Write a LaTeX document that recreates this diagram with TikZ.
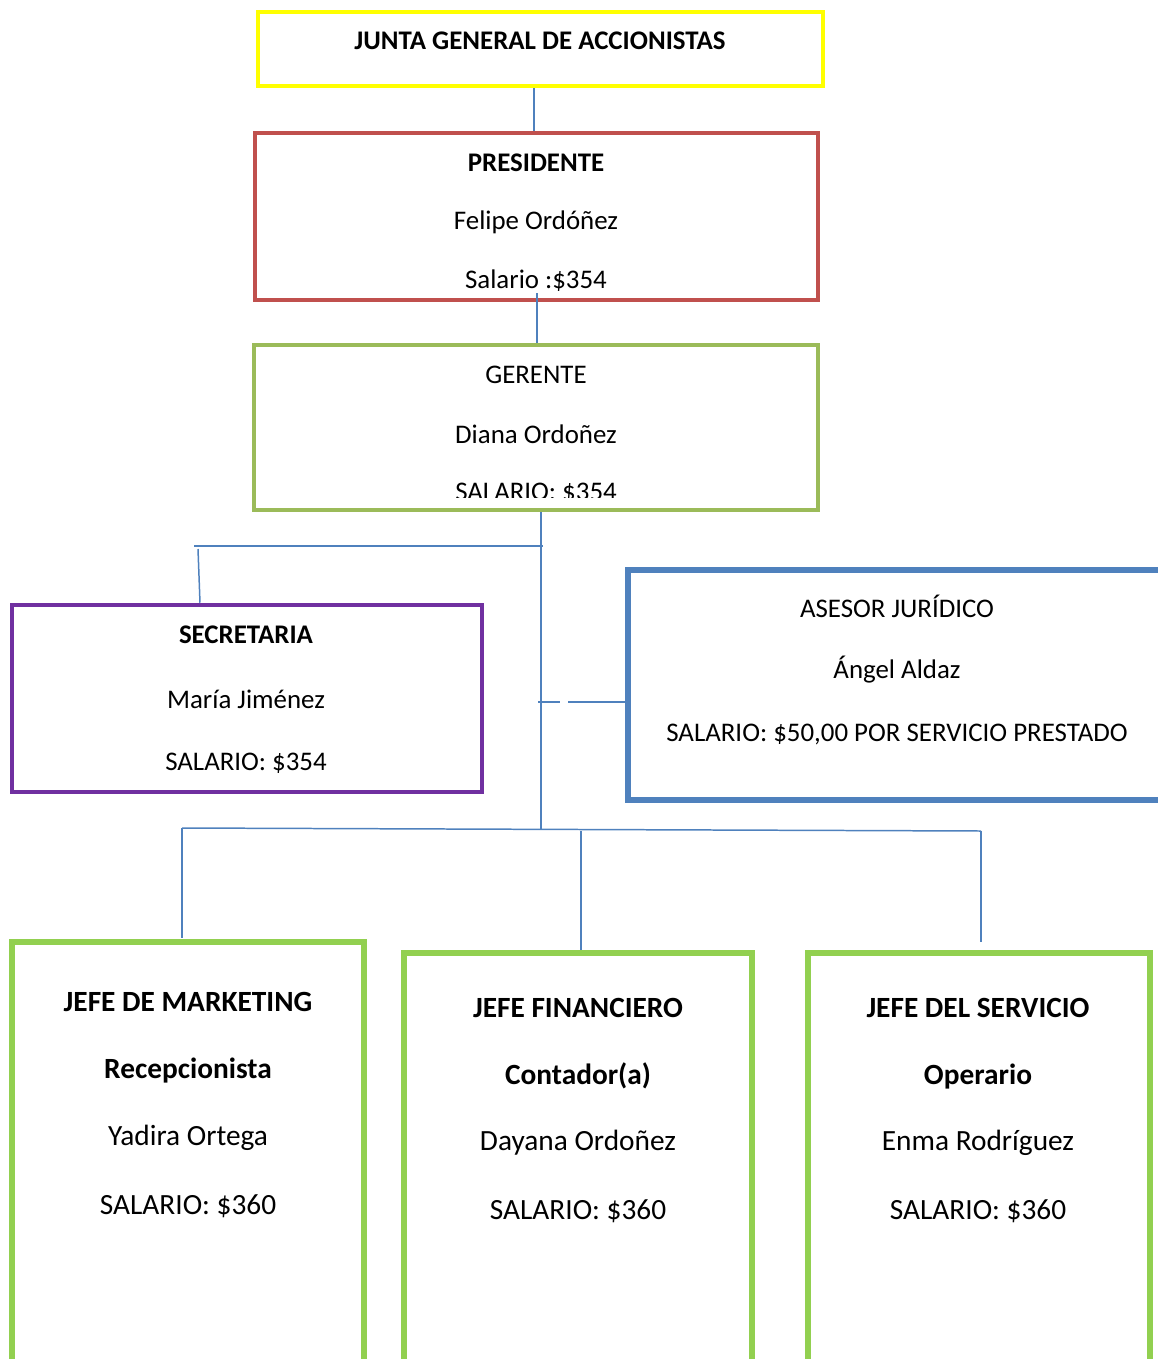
\documentclass[tikz,border=0pt]{standalone}
\usepackage{fontspec}
\setmainfont{Carlito}
\usepackage{tikz}
\usetikzlibrary{positioning}
\definecolor{amarillo}{HTML}{FFFF00}
\definecolor{rojo}{HTML}{C0504D}
\definecolor{verde}{HTML}{9BBB59}
\definecolor{morado}{HTML}{7030A0}
\definecolor{azul}{HTML}{4F81BD}
\definecolor{lima}{HTML}{92D050}
\tikzset{caja/.style={draw,line width=2.6pt,rectangle,inner sep=0pt},
  linea/.style={azul,line width=0.85pt},
  txt/.style={inner sep=0pt,font=\fontsize{15.3}{18}\selectfont},
  txtb/.style={txt,font=\fontsize{15.3}{18}\selectfont\bfseries},
  grande/.style={inner sep=0pt,font=\fontsize{16.7}{20}\selectfont},
  grandeb/.style={inner sep=0pt,font=\fontsize{16.7}{20}\selectfont\bfseries}}

\begin{document}
\begin{tikzpicture}[x=0.02cm,y=-0.02cm]
\useasboundingbox (0,0) rectangle (1158,1359);
\clip (0,0) rectangle (1158,1359);
% cajas
\node[caja,amarillo,minimum width=11.30cm,minimum height=1.48cm] (junta) at (540.5,49) {};
\node[caja,rojo,minimum width=11.26cm,minimum height=3.34cm] (pres) at (536.5,216.5) {};
\node[caja,verde,minimum width=11.28cm,minimum height=3.30cm] (ger) at (536,427.5) {};
\node[caja,morado,minimum width=9.40cm,minimum height=3.74cm] (sec) at (247,698.5) {};
\node[caja,azul,line width=3pt,minimum width=10.84cm,minimum height=4.60cm] (ases) at (899,685) {};
\node[caja,lima,line width=3pt,minimum width=7.04cm,minimum height=9.56cm] (mkt) at (188,1181) {};
\node[caja,lima,line width=3pt,minimum width=6.96cm,minimum height=9.34cm] (fin) at (578,1186.5) {};
\node[caja,lima,line width=3pt,minimum width=6.84cm,minimum height=9.34cm] (serv) at (979,1186.5) {};
% textos
\node[txtb] (t1) at (540,41) {JUNTA GENERAL DE ACCIONISTAS};
\node[txtb] (p1) at (536,163) {PRESIDENTE};
\node[txt] (p2) at (536,222) {Felipe Ordóñez};
\node[txt] (p3) at (536,281) {Salario :\$354};
\node[txt] (g1) at (536,375) {GERENTE};
\node[txt] (g2) at (536,434) {Diana Ordoñez};
\begin{scope}
\clip (254,345) rectangle (818,497);
\node[txt] (g3) at (536,493) {SALARIO: \$354};
\end{scope}
\node[txtb] (s1) at (246,635) {SECRETARIA};
\node[txt] (s2) at (246,699) {María Jiménez};
\node[txt] (s3) at (246,763) {SALARIO: \$354};
\node[txt] (a1) at (897,606) {ASESOR JURÍDICO};
\node[txt] (a2) at (897,670) {Ángel Aldaz};
\node[txt] (a3) at (897,734) {SALARIO: \$50,00 POR SERVICIO PRESTADO};
\node[grandeb] (m1) at (188,1002) {JEFE DE MARKETING};
\node[grandeb] (m2) at (188,1070) {Recepcionista};
\node[grande] (m3) at (188,1138) {Yadira Ortega};
\node[grande] (m4) at (188,1206) {SALARIO: \$360};
\node[grandeb] (f1) at (578,1008) {JEFE FINANCIERO};
\node[grandeb] (f2) at (578,1076) {Contador(a)};
\node[grande] (f3) at (578,1143) {Dayana Ordoñez};
\node[grande] (f4) at (578,1211) {SALARIO: \$360};
\node[grandeb] (e1) at (978,1008) {JEFE DEL SERVICIO};
\node[grandeb] (e2) at (978,1076) {Operario};
\node[grande] (e3) at (978,1143) {Enma Rodríguez};
\node[grande] (e4) at (978,1211) {SALARIO: \$360};
% conectores
\coordinate (c1) at (541,546); \coordinate (c0) at (194,546); \coordinate (c2) at (198,549);
\coordinate (c3) at (541,830); \coordinate (d0) at (538,702); \coordinate (d1) at (560,702);
\coordinate (d2) at (568,702); \coordinate (h0) at (182,828); \coordinate (h1) at (581,831);
\coordinate (h2) at (981,831);
\draw[linea] (junta.south -| 534,0) -- (pres.north -| 534,0);
\draw[linea] (537,293) -- (ger.north -| 537,0);
\draw[linea] (ger.south -| c1) -- (c3);
\draw[linea] (c0) -- (c1 -| 543,0);
\draw[linea] (c2) -- (sec.north -| 200,0);
\draw[linea] (d0) -- (d1) (d2) -- (ases.west |- d2);
\draw[linea] (h0) -- (h2);
\draw[linea] (h0) -- (182,938) (h1) -- (fin.north -| h1) (h2) -- (981,942);
\end{tikzpicture}
\end{document}
